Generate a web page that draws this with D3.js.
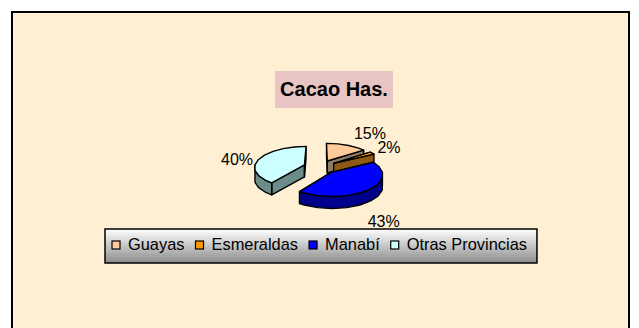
<!DOCTYPE html>
<html>
<head>
<meta charset="utf-8">
<script src="https://cdn.jsdelivr.net/npm/d3@7"></script>
<style>
  html, body { margin: 0; padding: 0; background: #ffffff; }
  svg { display: block; font-family: "Liberation Sans", Arial, sans-serif; }
</style>
</head>
<body>
<svg id="chart" width="639" height="328"></svg>
<script>
// Cacao hectares by province (percent of total)
const provinces = ["Guayas", "Esmeraldas", "Manabí", "Otras Provincias"];
const shares = [15, 2, 43, 40];
const topColors = ["#FFCC99", "#FF9900", "#0000FF", "#CCFFFF"];
const sideColors = ["#8E7A66", "#8C5A14", "#00008C", "#6B8C88"];
const chartTitle = "Cacao Has.";

const svg = d3.select("#chart");
const W = 639, H = 328;

// background and chart frame
svg.append("rect").attr("width", W).attr("height", H).attr("fill", "#ffffff");
svg.append("rect")
  .attr("x", 12).attr("y", 12).attr("width", 617).attr("height", 340)
  .attr("fill", "#FFF0D4").attr("stroke", "#000").attr("stroke-width", 2);

// title
const titleG = svg.append("g");
titleG.append("rect")
  .attr("x", 275).attr("y", 71).attr("width", 118).attr("height", 37)
  .attr("fill", "#E8C4C2");
titleG.append("text")
  .attr("x", 334).attr("y", 96)
  .attr("text-anchor", "middle")
  .attr("font-size", 20).attr("font-weight", "bold")
  .text(chartTitle);

// 3D pie geometry
const cx = 320, cy = 167, rx = 50, ry = 21, depth = 12;
const explode = 0.33, persp = 0.1, step = Math.PI / 12;

const pie = d3.pie().sort(null).startAngle(0).endAngle(2 * Math.PI);
const arcs = pie(shares);

function proj(u, v, h) {
  const s = 1 + persp * v;
  return [cx + rx * u * s, cy + ry * v * s + h];
}

function rimAngles(a0, a1) {
  const list = [a0];
  let a = Math.ceil(a0 / step + 1e-6) * step;
  while (a < a1 - 1e-6) { list.push(a); a += step; }
  list.push(a1);
  return list;
}

const line = d3.line();
const pieG = svg.append("g").attr("stroke", "#000").attr("stroke-width", 1.4)
  .attr("stroke-linejoin", "round");

// paint order: back slices first, front slice last
const order = [0, 1, 3, 2];
order.forEach(i => {
  const d = arcs[i];
  const mid = (d.startAngle + d.endAngle) / 2;
  const ou = explode * Math.sin(mid), ov = -explode * Math.cos(mid);
  const rim = (a, h) => proj(ou + Math.sin(a), ov - Math.cos(a), h);
  const ctr = h => proj(ou, ov, h);
  const g = pieG.append("g");

  // radial cut faces
  [d.startAngle, d.endAngle].forEach(a => {
    g.append("path")
      .attr("d", line([ctr(0), rim(a, 0), rim(a, depth), ctr(depth)]) + "Z")
      .attr("fill", sideColors[i]);
  });

  // outer wall on the front half
  const lo = Math.max(d.startAngle, Math.PI / 2);
  const hi = Math.min(d.endAngle, 3 * Math.PI / 2);
  if (hi > lo) {
    const angs = rimAngles(lo, hi);
    const pts = angs.map(a => rim(a, 0)).concat(angs.slice().reverse().map(a => rim(a, depth)));
    g.append("path").attr("d", line(pts) + "Z").attr("fill", sideColors[i]);
  }

  // top face
  const topPts = [ctr(0)].concat(rimAngles(d.startAngle, d.endAngle).map(a => rim(a, 0)));
  g.append("path").attr("d", line(topPts) + "Z").attr("fill", topColors[i]);
});

// percentage labels
const labelR = 1.45;
const labelNudge = [[16, -6], [1, -2], [-3, 10], [-3, 3]];
const labG = svg.append("g").attr("font-size", 16).attr("text-anchor", "middle");
arcs.forEach((d, i) => {
  const mid = (d.startAngle + d.endAngle) / 2;
  const ou = explode * Math.sin(mid), ov = -explode * Math.cos(mid);
  const p = proj(ou + labelR * Math.sin(mid), ov - labelR * Math.cos(mid),
                 Math.cos(mid) < 0 ? depth : 0);
  labG.append("text")
    .attr("x", p[0] + labelNudge[i][0])
    .attr("y", p[1] + labelNudge[i][1] + 6)
    .text(d3.format(".0f")(d.data) + "%");
});

// legend
const defs = svg.append("defs");
const grad = defs.append("linearGradient").attr("id", "legGrad")
  .attr("x1", 0).attr("y1", 0).attr("x2", 0).attr("y2", 1);
grad.append("stop").attr("offset", "0%").attr("stop-color", "#ffffff");
grad.append("stop").attr("offset", "100%").attr("stop-color", "#8C8C8C");

const legX = 105, legY = 229, legH = 34;
const legG = svg.append("g");
const legBox = legG.append("rect")
  .attr("x", legX).attr("y", legY).attr("height", legH)
  .attr("fill", "url(#legGrad)").attr("stroke", "#000").attr("stroke-width", 1.5);
let xPos = legX + 7;
provinces.forEach((name, i) => {
  legG.append("rect")
    .attr("x", xPos).attr("y", 241).attr("width", 8).attr("height", 8)
    .attr("fill", topColors[i]).attr("stroke", "#000").attr("stroke-width", 1.2);
  const t = legG.append("text")
    .attr("x", xPos + 16).attr("y", 250)
    .attr("font-size", 16.4)
    .text(name);
  xPos += 16 + t.node().getComputedTextLength() + 11;
});
legBox.attr("width", xPos - 11 + 10 - legX);
</script>
</body>
</html>
